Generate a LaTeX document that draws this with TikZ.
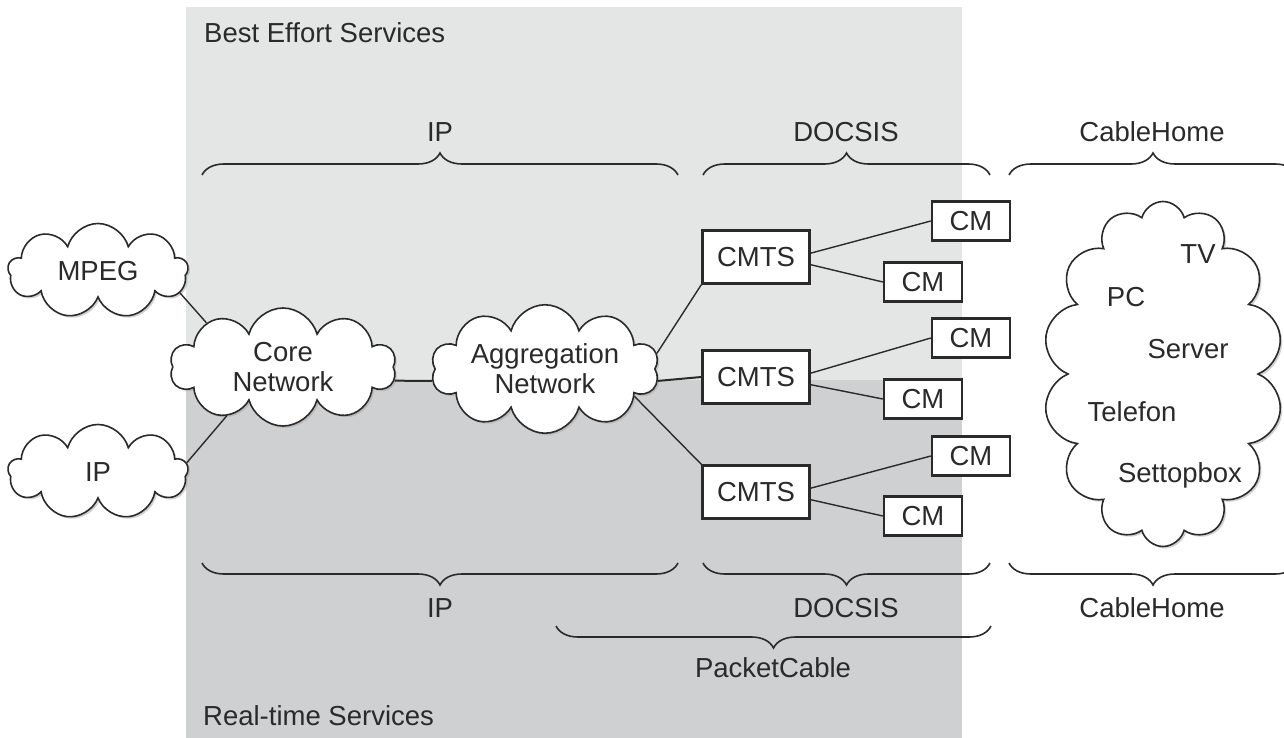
\documentclass[tikz,border=0pt]{standalone}
\usepackage{fontspec}
\setmainfont{Liberation Sans}
\usepackage{tikz}
\usetikzlibrary{positioning, shapes.symbols, shadows, decorations.pathreplacing}
\definecolor{besteffort}{HTML}{E4E5E5}
\definecolor{realtime}{HTML}{CFD0D2}
\definecolor{ink}{HTML}{2A2A2A}

\begin{document}
\begin{tikzpicture}[x=1pt, y=-1pt,
    font=\fontsize{27.5}{30}\selectfont, text=ink,
    netcloud/.style={cloud, cloud puffs=10, cloud ignores aspect, draw=ink, line width=1.6pt, fill=white, align=center,
      drop shadow={shadow xshift=2pt, shadow yshift=-2pt, fill=black!35}}, % Wolken mit Schatten
    box/.style={draw=ink, line width=2.4pt, fill=white, inner sep=0pt},
    link/.style={draw=ink, line width=1.4pt},
    brc/.style={draw=ink, line width=1.6pt, decorate, decoration={brace, amplitude=22pt}},
    lbl/.style={inner sep=0pt}
    ]
\useasboundingbox (0,0) rectangle (1284,738);
\fill[besteffort] (186,7) rectangle (962,380);
\fill[realtime] (186,380) rectangle (962,738);
\node[lbl, anchor=west] (best) at (204,33) {Best Effort Services};
\node[lbl, anchor=west] (realtime) at (203,716) {Real-time Services};

\draw[brc] (202,175) -- (678,175);
\draw[brc] (703,175) -- (990,175);
\draw[brc] (1009,175) -- (1297,175);
\node[lbl] (iptop) at (440,132) {IP};
\node[lbl] (docsistop) at (846,132) {DOCSIS};
\node[lbl] (hometop) at (1152,132) {CableHome};

\draw[brc] (678,563) -- (202,563);
\draw[brc] (990,563) -- (703,563);
\draw[brc] (1297,563) -- (1009,563);
\draw[brc] (991,626) -- (556,626);
\node[lbl] (ipbot) at (440,608) {IP};
\node[lbl] (docsisbot) at (846,608) {DOCSIS};
\node[lbl] (homebot) at (1152,608) {CableHome};
\node[lbl] (packetcable) at (773,668) {PacketCable};

\node[netcloud, cloud puffs=9, minimum width=180pt, minimum height=95pt] (mpeg) at (98,271) {MPEG};
\node[netcloud, cloud puffs=9, minimum width=180pt, minimum height=95pt] (ipsrc) at (98,472) {IP};
\node[netcloud, minimum width=226pt, minimum height=118pt] (core) at (283,367) {Core\\Network};
\node[netcloud, minimum width=228pt, minimum height=120pt] (agg) at (545,369) {Aggregation\\Network};
\node[netcloud, cloud puffs=14, minimum width=240pt, minimum height=345pt] (home) at (1163,374) {};
\node[lbl] (tv) at (1198,254) {TV};
\node[lbl] (pc) at (1126,297) {PC};
\node[lbl] (server) at (1188,349) {Server};
\node[lbl] (telefon) at (1132,412) {Telefon};
\node[lbl] (stb) at (1180,475) {Settopbox};

\node[box, minimum width=107pt, minimum height=53pt] (cmts1) at (756,257) {CMTS};
\node[box, minimum width=107pt, minimum height=53pt] (cmts2) at (756,377) {CMTS};
\node[box, minimum width=107pt, minimum height=53pt] (cmts3) at (756,492) {CMTS};
\node[box, minimum width=78pt, minimum height=39pt] (cm1) at (971,221) {CM};
\node[box, minimum width=78pt, minimum height=39pt] (cm2) at (923,282) {CM};
\node[box, minimum width=78pt, minimum height=39pt] (cm3) at (971,338) {CM};
\node[box, minimum width=78pt, minimum height=39pt] (cm4) at (923,399) {CM};
\node[box, minimum width=78pt, minimum height=39pt] (cm5) at (971,456) {CM};
\node[box, minimum width=78pt, minimum height=39pt] (cm6) at (923,516) {CM};

\draw[link] (mpeg.-15) -- (core.150);
\draw[link] (ipsrc.6) -- (core.221);
\draw[link, line width=2pt] (core.-7) -- (agg.186);
\draw[link] (agg.8) -- (cmts1.south west);
\draw[link, line width=2pt] (agg.-6) -- (cmts2.west);
\draw[link] (agg.-17) -- (cmts3.north west);
\draw[link] (cmts1.4) -- (cm1.west);
\draw[link] (cmts1.-8) -- (cm2.west);
\draw[link] (cmts2.4) -- (cm3.west);
\draw[link] (cmts2.-8) -- (cm4.west);
\draw[link] (cmts3.4) -- (cm5.west);
\draw[link] (cmts3.-8) -- (cm6.west);
\end{tikzpicture}
\end{document}
